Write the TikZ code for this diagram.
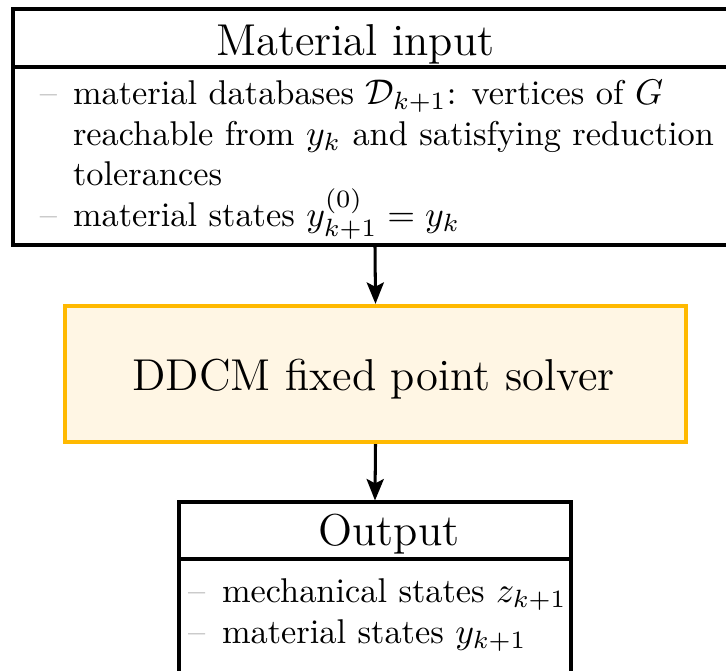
\documentclass[tikz,border=0pt]{standalone}
\usetikzlibrary{arrows.meta}
\definecolor{boxorange}{HTML}{FFB900}
\definecolor{boxcream}{HTML}{FFF6E4}
\definecolor{bulletgray}{HTML}{999999}
\def\u{0.28pt}
\begin{document}
\begin{tikzpicture}[x=\u,y=-\u,
  box/.style={draw=black,line width=0.85pt,rectangle,inner sep=0pt},
  solverbox/.style={draw=boxorange,fill=boxcream,line width=1.2pt,rectangle,inner sep=0pt},
  txt/.style={inner sep=0pt,outer sep=0pt},
  titletxt/.style={txt,anchor=base,font=\fontsize{12.5}{15}\selectfont},
  itemtxt/.style={txt,anchor=base west,font=\fontsize{9.62}{12}\selectfont},
  dashtxt/.style={itemtxt,text=bulletgray},
  conn/.style={line width=0.85pt,-{Stealth[length=6pt,width=4.8pt,inset=1.2pt]}}]
\useasboundingbox (0,0) rectangle (726,670);
\clip (0,0) rectangle (726,670);
% boxes
\node[box,minimum width=724*\u,minimum height=236*\u] (input) at (375,127) {};
\node[solverbox,minimum width=621*\u,minimum height=136*\u] (solver) at (375.5,374) {};
\node[box,minimum width=392*\u,minimum height=200*\u] (output) at (375,602) {};
\draw[line width=0.85pt] (13,67) -- (737,67);
\draw[line width=0.85pt] (179,559) -- (571,559);
% titles
\node[titletxt] (tin) at (355.5,55) {Material input};
\node[titletxt] (tsolver) at (373.5,390) {DDCM fixed point solver};
\node[titletxt] (tout) at (389,545) {Output};
% input items
\node[dashtxt] (d1) at (40,104) {--};
\node[itemtxt] (l1) at (73,104) {material databases $\mathcal{D}_{k+1}$: vertices of $G$};
\node[itemtxt] (l2) at (73,145) {reachable from $y_k$ and satisfying reduction};
\node[itemtxt] (l3) at (73,185) {tolerances};
\node[dashtxt] (d2) at (40,226) {--};
\node[itemtxt] (l4) at (73,226) {material states $y_{k+1}^{(0)}=y_k$};
% output items
\node[dashtxt] (d3) at (188,602) {--};
\node[itemtxt] (o1) at (222,602) {mechanical states $z_{k+1}$};
\node[dashtxt] (d4) at (188,643) {--};
\node[itemtxt] (o2) at (222,643) {material states $y_{k+1}$};
% connectors
\draw[conn] (input.south) -- (solver.north);
\draw[conn] (solver.south) -- (output.north);
\end{tikzpicture}
\end{document}
